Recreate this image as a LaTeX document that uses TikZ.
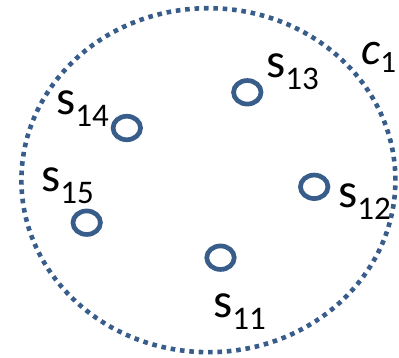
\documentclass[tikz,border=0pt]{standalone}
\usepackage{fontspec}
\setmainfont{Carlito}
\usetikzlibrary{shapes.geometric}
\definecolor{cblue}{RGB}{56,93,138}
\tikzset{
  pt/.style={draw=cblue, line width=4.7pt, ellipse, minimum width=27.5pt, minimum height=23.5pt, inner sep=0pt},
  big/.style={draw=cblue, line width=4.6pt, dash pattern=on 4.6pt off 4.8pt, ellipse, minimum width=374pt, minimum height=344pt, inner sep=0pt},
  lbl/.style={inner sep=0pt, anchor=base west, text=black}
}
\newcommand{\slab}[1]{{\fontsize{49}{49}\selectfont s}\raisebox{-12pt}{\fontsize{33}{33}\selectfont #1}}
\begin{document}
\begin{tikzpicture}[x=1pt,y=-1pt]
\useasboundingbox (0,0) rectangle (399,358);
\node[big] (c1) at (208.4,180.2) {};
\node[pt] (p13) at (247.3,92.3) {};
\node[pt] (p14) at (126.8,128) {};
\node[pt] (p15) at (86.7,222.7) {};
\node[pt] (p12) at (314.2,186.8) {};
\node[pt] (p11) at (220.5,257.7) {};
\node[lbl] (l13) at (266,78) {\slab{13}};
\node[lbl] (l14) at (56,115) {\slab{14}};
\node[lbl] (l15) at (41,192) {\slab{15}};
\node[lbl] (l12) at (338,208) {\slab{12}};
\node[lbl] (l11) at (213,317) {\slab{11}};
\node[lbl] (lc) at (361,65) {{\fontsize{46}{46}\selectfont\itshape c}\raisebox{-8pt}{\fontsize{31}{31}\selectfont 1}};
\end{tikzpicture}
\end{document}
